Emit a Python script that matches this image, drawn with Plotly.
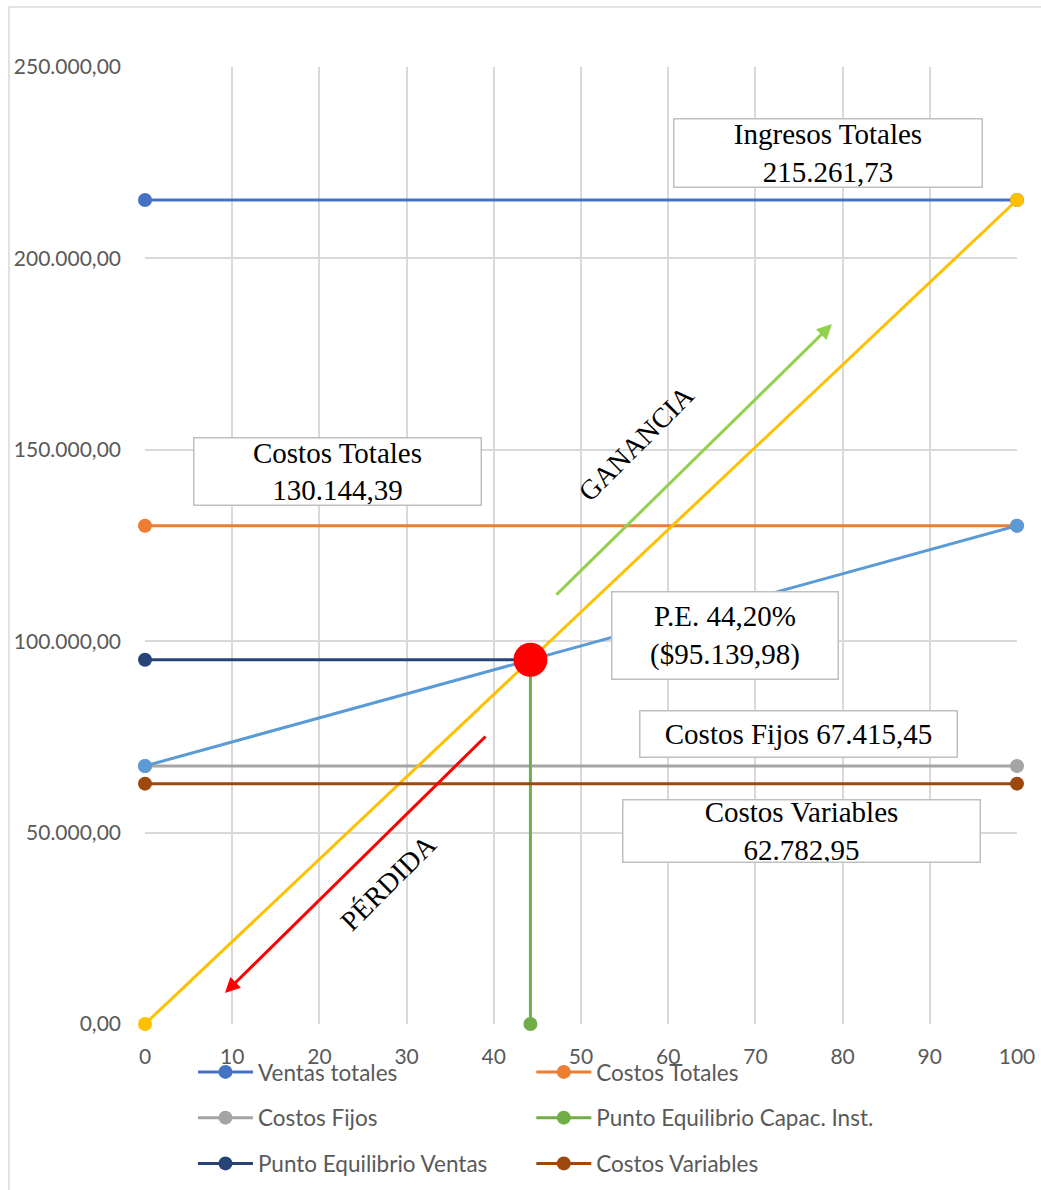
import plotly.graph_objects as go

# Break-even chart values
units_pct = [0, 100]
ventas_totales = [215261.73, 215261.73]
costos_totales = [130144.39, 130144.39]
costos_fijos = [67415.45, 67415.45]
ingresos_linea = [0, 215261.73]
costos_linea = [67415.45, 130144.39]
pe_pct = 44.20
pe_valor = 95139.98
costos_variables = [62782.95, 62782.95]

x_ticks = [0, 10, 20, 30, 40, 50, 60, 70, 80, 90, 100]
y_ticks = [0, 50000, 100000, 150000, 200000, 250000]

TICK_FONT = dict(family="Lato, Carlito, sans-serif", size=21, color="#595959")
LEG_FONT = dict(family="Lato, Carlito, sans-serif", size=22.5, color="#595959")
SERIF = dict(family="Liberation Serif, Times New Roman, serif", size=29, color="#000000")
LW = 3
MS = 14

fig = go.Figure()


def add_series(x, y, name, color, legend=None, rank=None, show=True):
    fig.add_trace(go.Scatter(
        x=x, y=y, name=name, mode="lines+markers",
        line=dict(color=color, width=LW),
        marker=dict(color=color, size=MS),
        cliponaxis=False, showlegend=show,
        legend=legend, legendgroup=name if show else None,
        legendrank=rank if rank else 1000,
        hoverinfo="x+y+name",
    ))


add_series(units_pct, ventas_totales, "Ventas totales", "#4472C4", "legend", 1)
add_series(units_pct, costos_totales, "Costos Totales", "#ED7D31", "legend2", 1)
add_series(units_pct, costos_fijos, "Costos Fijos", "#A5A5A5", "legend", 2)
add_series(units_pct, ingresos_linea, "Ingresos", "#FFC000", show=False)
add_series(units_pct, costos_linea, "Costos", "#5B9BD5", show=False)
add_series([pe_pct, pe_pct], [0, pe_valor], "Punto Equilibrio Capac. Inst.", "#70AD47", "legend2", 2)
add_series([0, pe_pct], [pe_valor, pe_valor], "Punto Equilibrio Ventas", "#264478", "legend", 3)
add_series(units_pct, costos_variables, "Costos Variables", "#9E480E", "legend2", 3)

# Break-even point
fig.add_trace(go.Scatter(
    x=[pe_pct], y=[pe_valor], mode="markers", showlegend=False,
    marker=dict(color="#FF0000", size=34), cliponaxis=False,
))


def fmt(v):
    s = f"{v:,.2f}"
    return s.replace(",", "X").replace(".", ",").replace("X", ".")


def text_box(x, y, text, w, h):
    fig.add_annotation(
        x=x, y=y, xref="x", yref="y", text=text, showarrow=False,
        font=SERIF, bgcolor="#FFFFFF", bordercolor="#BFBFBF",
        borderwidth=1.5, borderpad=0, width=w, height=h,
        align="center", valign="middle",
    )


text_box(78.27, 227640, f"Ingresos Totales<br>{fmt(ventas_totales[0])}", 307, 67)
text_box(22.13, 144440, f"Costos Totales<br>{fmt(costos_totales[0])}", 286, 66)
text_box(66.57, 101610, f"P.E. {fmt(pe_pct)}%<br>(${fmt(pe_valor)})", 225, 86)
text_box(74.89, 75880, f"Costos Fijos {fmt(costos_fijos[0])}", 316, 45)
text_box(75.23, 50540, f"Costos Variables<br>{fmt(costos_variables[0])}", 356, 61)

# Profit / loss arrows
fig.add_annotation(
    x=78.78, y=182840, ax=47.02, ay=111790, xref="x", yref="y",
    axref="x", ayref="y", text="", showarrow=True, arrowhead=2,
    arrowsize=1, arrowwidth=3, arrowcolor="#92D050", standoff=0,
)
fig.add_annotation(
    x=9.17, y=8100, ax=39.22, ay=75490, xref="x", yref="y",
    axref="x", ayref="y", text="", showarrow=True, arrowhead=2,
    arrowsize=1, arrowwidth=3, arrowcolor="#FF0000", standoff=0,
)
fig.add_annotation(x=56.3, y=151760, text="GANANCIA", showarrow=False,
                   textangle=-45, font=dict(SERIF, size=28))
fig.add_annotation(x=27.9, y=37090, text="PÉRDIDA", showarrow=False,
                   textangle=-45, font=dict(SERIF, size=28))

# Chart-area border
fig.add_shape(type="rect", xref="paper", yref="paper",
              x0=-0.156, x1=1.06, y0=-0.19, y1=1.0627,
              line=dict(color="#D9D9D9", width=1.5), layer="below")

axis_common = dict(
    showgrid=True, gridcolor="#D9D9D9", gridwidth=1.5,
    zeroline=False, showline=False, ticks="",
    tickfont=TICK_FONT, automargin=False,
)

fig.update_xaxes(range=[0, 100], tickvals=x_ticks, ticklabelstandoff=18, **axis_common)
fig.update_yaxes(range=[0, 250000], tickvals=y_ticks, tickformat=",.2f",
                 ticklabelstandoff=23, **axis_common)

leg_common = dict(orientation="v", font=LEG_FONT, bgcolor="rgba(0,0,0,0)",
                  itemwidth=55, tracegroupgap=13.5, xanchor="left", yanchor="top",
                  traceorder="grouped")

fig.update_layout(
    width=1041, height=1190,
    margin=dict(l=145, r=24, t=67, b=166, autoexpand=False),
    paper_bgcolor="#FFFFFF", plot_bgcolor="#FFFFFF",
    separators=",.",
    showlegend=True,
    legend=dict(x=0.055, y=-0.028, **leg_common),
    legend2=dict(x=0.443, y=-0.028, **leg_common),
)

fig.write_html("out.html")
